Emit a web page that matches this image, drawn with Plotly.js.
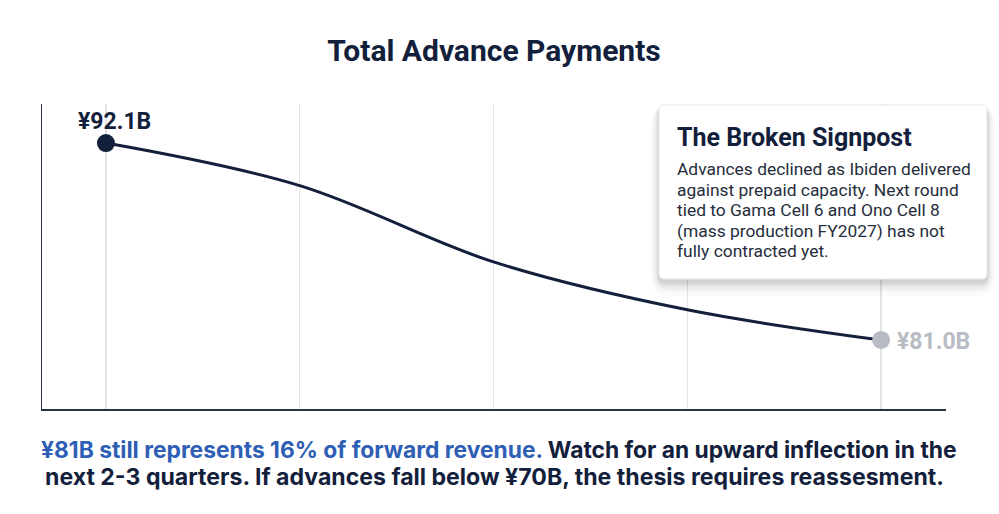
<!DOCTYPE html>
<html>
<head>
<meta charset="utf-8">
<script src="https://cdn.plot.ly/plotly-3.0.1.min.js"></script>
<style>
html,body{margin:0;padding:0;background:#fff;}
#chart{width:999px;height:514px;}
</style>
</head>
<body>
<div id="chart"></div>
<script>
// ---- data ----
const periods = [0, 1, 2, 3, 4];
const advances = [92.1, 89.7, 85.4, 82.7, 81.0];
const startLabel = "¥92.1B";
const endLabel = "¥81.0B";
const chartTitle = "Total Advance Payments";
const boxTitle = "The Broken Signpost";
const boxLines = [
  "Advances declined as Ibiden delivered",
  "against prepaid capacity. Next round",
  "tied to Gama Cell 6 and Ono Cell 8",
  "(mass production FY2027) has not",
  "fully contracted yet."
];
const noteBlue = "¥81B still represents 16% of forward revenue.";
const noteRest1 = " Watch for an upward inflection in the";
const noteLine2 = "next 2-3 quarters. If advances fall below ¥70B, the thesis requires reassesment.";

// ---- layout helpers (pixel -> paper) ----
const W = 999, H = 514;
const M = {l: 42, r: 53, t: 104, b: 105};
const PW = W - M.l - M.r, PH = H - M.t - M.b;
const px = x => (x - M.l) / PW;
const py = y => (H - M.b - y) / PH;

const navy = "#13203b";
const grey = "#b7bbc3";
const FONT = "Roboto, 'Open Sans', sans-serif";
const NOTEFONT = "Inter, Roboto, sans-serif";

function roundRect(x0, y0, x1, y1, r) {
  const X = v => px(v), Y = v => py(v);
  const rx = r / PW, ry = r / PH;
  const a = X(x0), b = X(x1), c = Y(y1), d = Y(y0);
  return `M ${a + rx},${d} L ${b - rx},${d} Q ${b},${d} ${b},${d - ry} ` +
         `L ${b},${c + ry} Q ${b},${c} ${b - rx},${c} L ${a + rx},${c} ` +
         `Q ${a},${c} ${a},${c + ry} L ${a},${d - ry} Q ${a},${d} ${a + rx},${d} Z`;
}

const box = {x0: 659, y0: 105, x1: 987, y1: 279};
const shapes = [];
const shadowLayers = [[14, 0.018], [10, 0.025], [7, 0.035], [4, 0.05], [2, 0.06]];
shadowLayers.forEach(([s, op]) => {
  shapes.push({
    type: "path", xref: "paper", yref: "paper", layer: "above",
    path: roundRect(box.x0 - s * 0.6, box.y0 - s * 0.2 + 3, box.x1 + s * 0.6, box.y1 + s + 3, 6 + s),
    fillcolor: "rgba(0,0,0," + op + ")", line: {width: 0}
  });
});
shapes.push({
  type: "path", xref: "paper", yref: "paper", layer: "above",
  path: roundRect(box.x0, box.y0, box.x1, box.y1, 5),
  fillcolor: "#ffffff", line: {color: "#e6e8ec", width: 1}
});

const annotations = [];
annotations.push({
  x: periods[0], y: advances[0], xref: "x", yref: "y",
  text: "<b>" + startLabel + "</b>", showarrow: false,
  xanchor: "center", yanchor: "middle", xshift: 9, yshift: 22,
  font: {family: FONT, size: 23, color: navy}
});
annotations.push({
  x: periods[4], y: advances[4], xref: "x", yref: "y",
  text: "<b>" + endLabel + "</b>", showarrow: false,
  xanchor: "left", yanchor: "middle", xshift: 14, yshift: -2,
  font: {family: FONT, size: 23, color: grey}
});
annotations.push({
  x: px(675), y: py(137), xref: "paper", yref: "paper",
  text: "<b>" + boxTitle + "</b>", showarrow: false,
  xanchor: "left", yanchor: "middle",
  font: {family: FONT, size: 25, color: navy}
});
boxLines.forEach((t, i) => {
  annotations.push({
    x: px(675), y: py(169 + i * 20.6), xref: "paper", yref: "paper",
    text: t, showarrow: false, xanchor: "left", yanchor: "middle",
    font: {family: FONT, size: 17.4, color: "#252d3b"}
  });
});
annotations.push({
  x: px(499), y: py(449), xref: "paper", yref: "paper",
  text: "<b><span style='color:#2f5eb5'>" + noteBlue + "</span>" + noteRest1 + "</b>",
  showarrow: false, xanchor: "center", yanchor: "middle",
  font: {family: NOTEFONT, size: 22.8, color: navy}
});
annotations.push({
  x: px(494), y: py(477), xref: "paper", yref: "paper",
  text: "<b>" + noteLine2 + "</b>",
  showarrow: false, xanchor: "center", yanchor: "middle",
  font: {family: NOTEFONT, size: 23.1, color: navy}
});

const lineTrace = {
  x: periods, y: advances, type: "scatter", mode: "lines",
  line: {color: navy, width: 3, shape: "spline", smoothing: 1},
  hoverinfo: "skip", cliponaxis: false
};
const endIdx = [0, periods.length - 1];
const dotTrace = {
  x: endIdx.map(i => periods[i]), y: endIdx.map(i => advances[i]),
  type: "scatter", mode: "markers",
  marker: {size: 18, color: [navy, grey], opacity: 1, line: {width: 0}},
  hoverinfo: "skip", cliponaxis: false
};

const layout = {
  width: W, height: H,
  margin: M,
  paper_bgcolor: "#ffffff", plot_bgcolor: "#ffffff",
  showlegend: false,
  title: {
    text: "<b>" + chartTitle + "</b>", x: 0.5, xref: "paper",
    y: 1 - 50 / H, yref: "container", yanchor: "middle", xanchor: "center",
    font: {family: FONT, size: 30, color: navy}
  },
  xaxis: {
    range: [-0.33, 4.335], tickvals: periods, showticklabels: false, ticks: "",
    showgrid: true, gridcolor: "#e3e4e7", gridwidth: 1.2, zeroline: false,
    showline: true, linecolor: "#2a3245", linewidth: 1.5, fixedrange: true
  },
  yaxis: {
    range: [77.11, 94.3], showticklabels: false, ticks: "", showgrid: false,
    zeroline: false, showline: true, linecolor: "#2a3245", linewidth: 1.5, fixedrange: true
  },
  shapes: shapes,
  annotations: annotations
};

Plotly.newPlot("chart", [lineTrace, dotTrace], layout, {displayModeBar: false, staticPlot: true});
</script>
</body>
</html>
